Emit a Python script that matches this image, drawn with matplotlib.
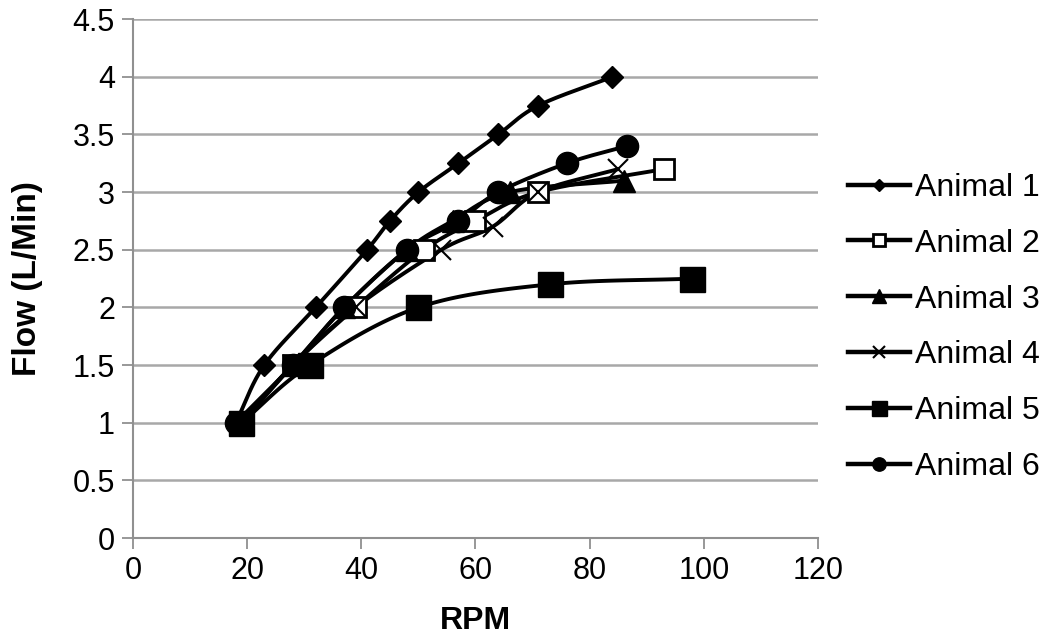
import numpy as np
import matplotlib
matplotlib.use("Agg")
import matplotlib.pyplot as plt
from matplotlib.lines import Line2D

plt.rcParams['font.family'] = ['Liberation Sans', 'DejaVu Sans']

labels = ["Animal 1", "Animal 2", "Animal 3", "Animal 4", "Animal 5", "Animal 6"]
a1_x = [18, 23, 32, 41, 45, 50, 57, 64, 71, 84]
a1_y = [1.0, 1.5, 2.0, 2.5, 2.75, 3.0, 3.25, 3.5, 3.75, 4.0]
a2_x = [19, 28, 39, 51, 60, 71, 93]
a2_y = [1.0, 1.5, 2.0, 2.5, 2.75, 3.0, 3.2]
a3_x = [19, 28, 37, 48, 56, 66, 86]
a3_y = [1.0, 1.5, 2.0, 2.5, 2.75, 3.0, 3.1]
a4_x = [19, 28, 39, 54, 63, 71, 85]
a4_y = [1.0, 1.5, 2.0, 2.5, 2.7, 3.0, 3.2]
a5_x = [19, 31, 50, 73, 98]
a5_y = [1.0, 1.5, 2.0, 2.2, 2.25]
a6_x = [18, 28, 37, 48, 57, 64, 76, 86.5]
a6_y = [1.0, 1.5, 2.0, 2.5, 2.75, 3.0, 3.25, 3.4]

series_x = [a1_x, a2_x, a3_x, a4_x, a5_x, a6_x]
series_y = [a1_y, a2_y, a3_y, a4_y, a5_y, a6_y]
markers = [dict(marker='D', ms=11, mfc='black', mec='black', mew=1),
           dict(marker='s', ms=15, mfc='white', mec='black', mew=2),
           dict(marker='^', ms=16, mfc='black', mec='black', mew=1),
           dict(marker='x', ms=14, mfc='black', mec='black', mew=1.5),
           dict(marker='s', ms=18, mfc='black', mec='black', mew=1),
           dict(marker='o', ms=16, mfc='black', mec='black', mew=1)]

def smooth(x, y, sx=120.0, sy=4.5 * 0.76, n=30):
    p = np.column_stack([np.asarray(x, float) / sx, np.asarray(y, float) / sy])
    if len(p) < 3:
        return x, y
    pts = np.vstack([p[0] + (p[0] - p[1]), p, p[-1] + (p[-1] - p[-2])])
    out = []
    for i in range(1, len(pts) - 2):
        p0, p1, p2, p3 = pts[i - 1], pts[i], pts[i + 1], pts[i + 2]
        t = np.linspace(0, 1, n, endpoint=(i == len(pts) - 3))[:, None]
        c = 0.5 * ((2 * p1) + (-p0 + p2) * t + (2 * p0 - 5 * p1 + 4 * p2 - p3) * t ** 2
                   + (-p0 + 3 * p1 - 3 * p2 + p3) * t ** 3)
        out.append(c)
    out = np.vstack(out)
    return out[:, 0] * sx, out[:, 1] * sy

fig = plt.figure(figsize=(10.5, 6.39), dpi=100)
ax = fig.add_axes([0.1267, 0.158, 0.6523, 0.812])

handles = []
for xs, ys, lab, mk in zip(series_x, series_y, labels, markers):
    sxv, syv = smooth(xs, ys)
    ax.plot(sxv, syv, color='black', lw=2.8, solid_capstyle='round', zorder=3)
    ax.plot(xs, ys, ls='none', zorder=4, **mk)
    handles.append(Line2D([0], [0], color='black', lw=3.2, **mk))

ax.set_xlim(0, 120)
ax.set_ylim(0, 4.5)
ax.set_xticks(np.arange(0, 121, 20))
ax.set_yticks(np.arange(0, 4.51, 0.5))
ax.set_yticklabels(['0', '0.5', '1', '1.5', '2', '2.5', '3', '3.5', '4', '4.5'])
ax.yaxis.grid(True, color='#a8a8a8', lw=1.8)
ax.set_axisbelow(True)
for s in ['top', 'right']:
    ax.spines[s].set_visible(False)
for s in ['left', 'bottom']:
    ax.spines[s].set_color('#909090')
    ax.spines[s].set_linewidth(1.5)
ax.tick_params(axis='both', colors='#909090', length=8, width=1.3, labelsize=22,
               labelcolor='black', pad=5)
ax.set_xlabel('RPM', fontsize=23, fontweight='bold', labelpad=14)
ax.set_ylabel('Flow (L/Min)', fontsize=24, fontweight='bold', labelpad=21)

leg = fig.legend(handles, labels, loc='center left', bbox_to_anchor=(0.8076, 0.4875),
                 frameon=False, fontsize=23, handlelength=1.95, handletextpad=0.15,
                 labelspacing=0.81, markerscale=0.6, borderpad=0, borderaxespad=0)

fig.savefig('out.png', dpi=100)
